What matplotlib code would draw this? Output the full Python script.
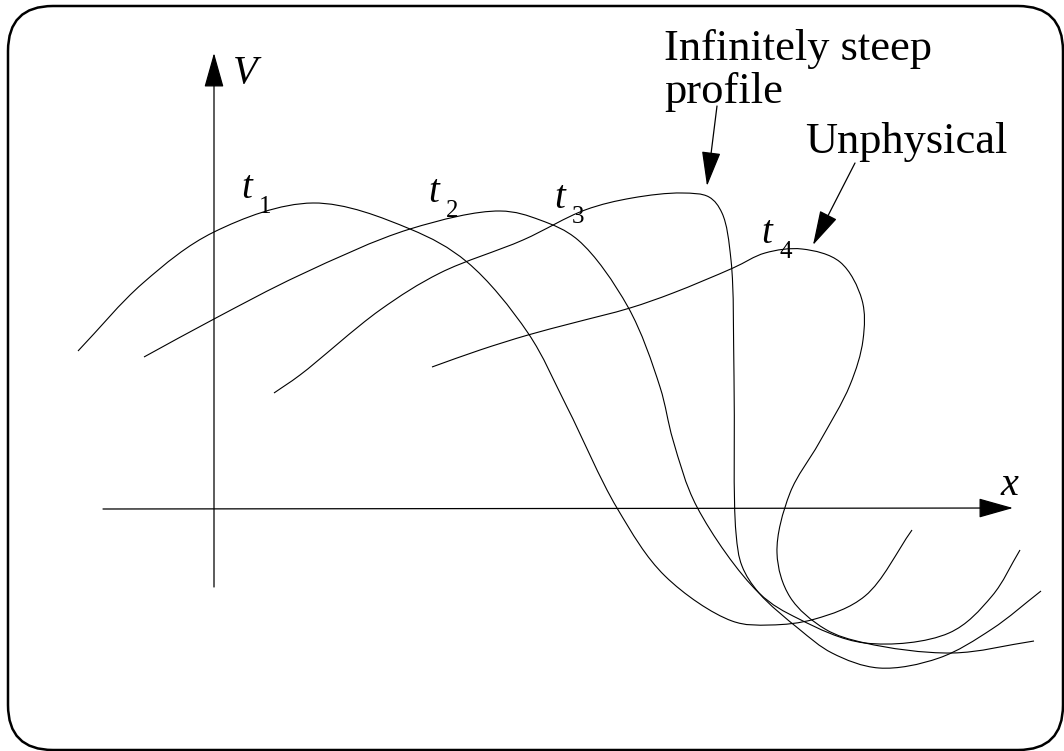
import numpy as np
import matplotlib
matplotlib.use("Agg")
import matplotlib.pyplot as plt
from matplotlib.path import Path
from matplotlib.patches import PathPatch, FancyBboxPatch

# Profiles V(x) at successive times, as points along each curve (pixel space)
t1_pts = [(78, 351), (143, 283), (214, 232), (313, 203), (410, 229), (467, 262),
          (528, 333), (567, 407), (617, 508), (665, 576), (732, 621), (770, 625),
          (815, 619), (865, 596), (912, 530)]
t2_pts = [(144, 357), (214, 319), (300, 275), (410, 229), (500, 211), (540, 220),
          (578, 240), (628, 307), (660, 387), (673, 440), (697, 507), (759, 593),
          (799, 619), (865, 643), (949, 633), (992, 596), (1020, 550)]
t3_pts = [(274, 393), (300, 375), (380, 310), (440, 273), (523, 240), (585, 210),
          (632, 198), (682, 193), (709, 197), (722, 213), (731, 260), (734, 376),
          (736, 533), (742, 566), (759, 593), (799, 629), (832, 653), (879, 668),
          (939, 658), (992, 629), (1041, 591)]
t4_pts = [(432, 367), (480, 350), (528, 335), (573, 323), (630, 308), (673, 293),
          (733, 268), (765, 253), (802, 249), (840, 262), (862, 300), (863, 340),
          (850, 385), (819, 443), (790, 493), (777, 553), (790, 597), (825, 629),
          (865, 643), (952, 653), (1034, 641)]
profiles = [t1_pts, t2_pts, t3_pts, t4_pts]

time_labels = ["1", "2", "3", "4"]
time_label_pos = [(241, 198), (428, 202), (554, 208), (761, 243)]


def smooth_path(pts, alpha=0.5):
    # centripetal Catmull-Rom through the points, as cubic Bezier segments
    p = np.asarray(pts, dtype=float)
    p = np.vstack([2 * p[0] - p[1], p, 2 * p[-1] - p[-2]])
    verts = [tuple(p[1])]
    codes = [Path.MOVETO]
    for i in range(1, len(p) - 2):
        p0, p1, p2, p3 = p[i - 1], p[i], p[i + 1], p[i + 2]
        d1 = np.linalg.norm(p1 - p0) ** alpha
        d2 = np.linalg.norm(p2 - p1) ** alpha
        d3 = np.linalg.norm(p3 - p2) ** alpha
        c1 = (d1 ** 2 * p2 - d2 ** 2 * p0 + (2 * d1 ** 2 + 3 * d1 * d2 + d2 ** 2) * p1) \
            / (3 * d1 * (d1 + d2))
        c2 = (d3 ** 2 * p1 - d2 ** 2 * p3 + (2 * d3 ** 2 + 3 * d3 * d2 + d2 ** 2) * p2) \
            / (3 * d3 * (d3 + d2))
        verts += [tuple(c1), tuple(c2), tuple(p2)]
        codes += [Path.CURVE4] * 3
    return Path(verts, codes)


W, H = 1064, 751
fig = plt.figure(figsize=(W / 100, H / 100), dpi=100)
ax = fig.add_axes([0, 0, 1, 1])
ax.set_xlim(0, W)
ax.set_ylim(H, 0)
ax.axis("off")

serif = "Liberation Serif"

# rounded frame
frame = FancyBboxPatch((8, 6), 1055, 744, boxstyle="round,pad=0,rounding_size=45",
                       fill=False, lw=1.8, ec="black")
ax.add_patch(frame)

# axes with arrowheads
axis_arrow = dict(arrowstyle="-|>,head_length=22,head_width=6.2", mutation_scale=1,
                  lw=0.9, color="black", shrinkA=0, shrinkB=0)
ax.annotate("", xy=(214, 53), xytext=(214, 587), arrowprops=axis_arrow)
ax.annotate("", xy=(1013, 508), xytext=(103, 509), arrowprops=axis_arrow)
ax.text(233, 83, "V", fontsize=29, family=serif, style="italic", va="baseline")
ax.text(1001, 495, "x", fontsize=29, family=serif, style="italic", va="baseline")

for pts in profiles:
    ax.add_patch(PathPatch(smooth_path(pts), fill=False, lw=0.8, ec="black"))

for lab, (x, y) in zip(time_labels, time_label_pos):
    ax.text(x, y, "t", fontsize=28, family=serif, style="italic", va="baseline")
    ax.text(x + 18, y + 15, lab, fontsize=18, family=serif, va="baseline")

# annotations
ax.text(664, 60, "Infinitely steep", fontsize=32, family=serif, va="baseline")
ax.text(664, 103, "profile", fontsize=32, family=serif, va="baseline")
ax.text(805, 153, "Unphysical", fontsize=32, family=serif, va="baseline")
note_arrow = dict(arrowstyle="-|>,head_length=22,head_width=6", mutation_scale=1,
                  lw=0.9, color="black", shrinkA=0, shrinkB=0)
ax.annotate("", xy=(707, 186), xytext=(717, 106), arrowprops=note_arrow)
ax.annotate("", xy=(813, 245), xytext=(855, 163), arrowprops=note_arrow)

fig.savefig("out.png", dpi=100)
